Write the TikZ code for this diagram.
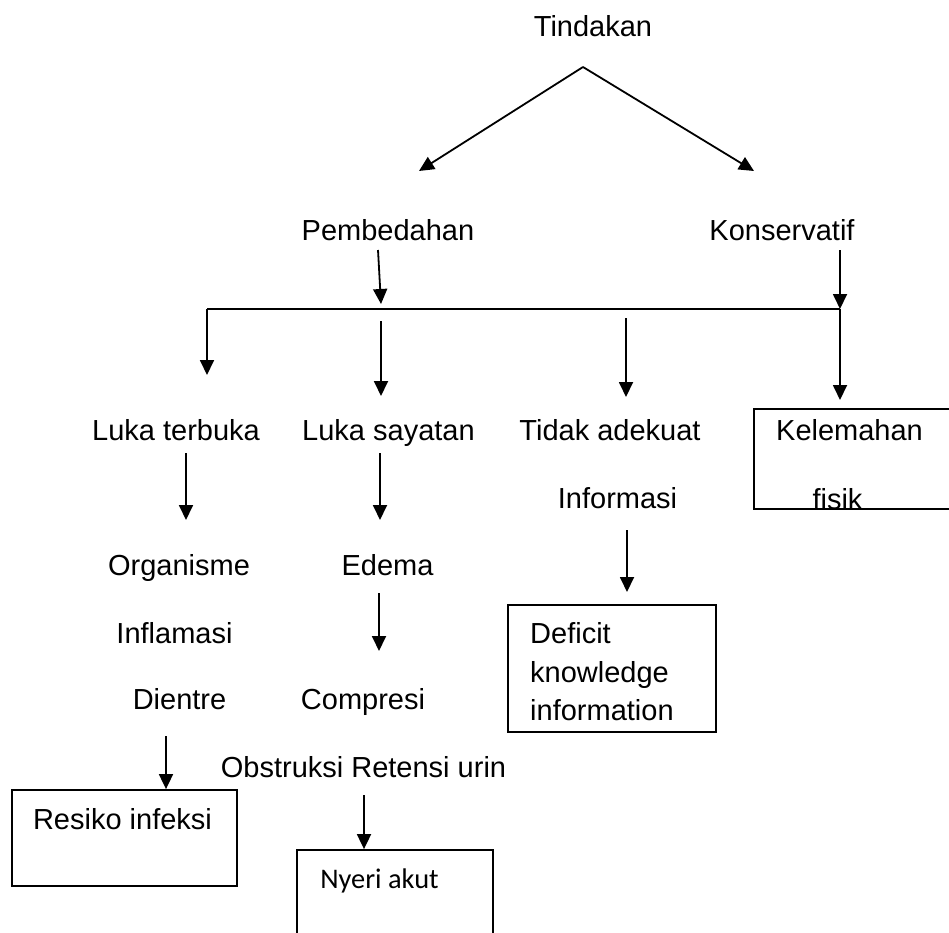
\documentclass[tikz,border=0pt]{standalone}
\usepackage{fontspec}
\setmainfont{Liberation Sans}
\newfontfamily\nyerifont{Carlito}
\usetikzlibrary{arrows.meta}

\tikzset{
  arr/.style={-{Triangle[length=15pt,width=14pt]}, line width=1.8pt},
  lbl/.style={anchor=base, inner sep=0pt},
  box/.style={draw, line width=1.8pt, inner sep=0pt}
}

\begin{document}
\begin{tikzpicture}[x=1pt, y=-1pt, font=\fontsize{29}{34}\selectfont]
\clip (0,0) rectangle (949,932);

\def\xa{207}
\def\xb{381}
\def\xc{626}
\def\xd{840}
\def\ybar{309}

% top part
\node[lbl] (tind) at (593,36) {Tindakan};
\node[lbl] (pemb) at (388,240) {Pembedahan};
\node[lbl] (kons) at (782,240) {Konservatif};

\coordinate (apex) at (583,67);
\coordinate (pembtip) at (419,171);
\coordinate (konstip) at (754,171);

% second row
\node[lbl] (lter) at (176,440) {Luka terbuka};
\node[lbl] (lsay) at (388.5,440) {Luka sayatan};
\node[lbl] (tadk) at (610,440) {Tidak adekuat};
\node[lbl] (info) at (617.5,508) {Informasi};

\node[box, minimum width=206pt, minimum height=100pt] (kel) at (857,459) {};
\node[lbl] (kelt) at (849.5,440) {Kelemahan};
\node[lbl] (fisik) at (837.5,509) {fisik};

% left and middle columns
\node[lbl] (orga) at (179,575) {Organisme};
\node[lbl] (edem) at (387.5,575) {Edema};
\node[lbl] (infl) at (174.5,643) {Inflamasi};
\node[lbl] (dien) at (179.5,709) {Dientre};
\node[lbl] (comp) at (363,709) {Compresi};
\node[lbl] (obst) at (363.5,777) {Obstruksi Retensi urin};

\node[box, minimum width=208pt, minimum height=127pt] (def) at (612,668.5) {};
\node[lbl, anchor=base west] (def1) at (530,643) {Deficit};
\node[lbl, anchor=base west] (def2) at (530,682) {knowledge};
\node[lbl, anchor=base west] (def3) at (530,720) {information};

\node[box, minimum width=225pt, minimum height=96pt] (resiko) at (124.5,838) {};
\node[lbl] (resikot) at (122.5,829) {Resiko infeksi};

\node[box, minimum width=196pt, minimum height=100pt] (nyeri) at (395,900) {};
\node[lbl, font=\nyerifont\fontsize{28.4}{34}\selectfont] (nyerit) at (379.5,888) {Nyeri akut};

% bar
\coordinate (barl) at (\xa,\ybar);
\coordinate (barr) at (\xd,\ybar);
\coordinate (pemba) at (378,250);
\coordinate (pembb) at (\xb,304);
\coordinate (konsa) at (\xd,250);

\coordinate (ltertip) at (\xa,375);
\coordinate (lsaya) at (\xb,321);
\coordinate (lsaytip) at (\xb,396);
\coordinate (tadka) at (\xc,318);
\coordinate (tadktip) at (\xc,397);
\coordinate (keltip) at (\xd,400);

\coordinate (orgaa) at (186,453);
\coordinate (orgatip) at (186,520);
\coordinate (edema) at (380,453);
\coordinate (edemtip) at (380,520);
\coordinate (infoa) at (627,530);
\coordinate (infotip) at (627,592);
\coordinate (compa) at (379,593);
\coordinate (comptip) at (379,651);
\coordinate (resikoa) at (166,736);
\coordinate (nyeria) at (364,795);

\draw[arr] (apex) -- (pembtip);
\draw[arr] (apex) -- (konstip);
\draw[arr] (pemba) -- (pembb);
\draw[arr] (konsa) -- (barr);
\draw[line width=1.8pt] (barl) -- (barr);

\draw[arr] (barl) -- (ltertip);
\draw[arr] (lsaya) -- (lsaytip);
\draw[arr] (tadka) -- (tadktip);
\draw[arr] (barr) -- (keltip);

\draw[arr] (orgaa) -- (orgatip);
\draw[arr] (edema) -- (edemtip);
\draw[arr] (infoa) -- (infotip);
\draw[arr] (compa) -- (comptip);
\draw[arr] (resikoa) -- (resikoa |- resiko.north);
\draw[arr] (nyeria) -- (nyeria |- nyeri.north);

\end{tikzpicture}
\end{document}
